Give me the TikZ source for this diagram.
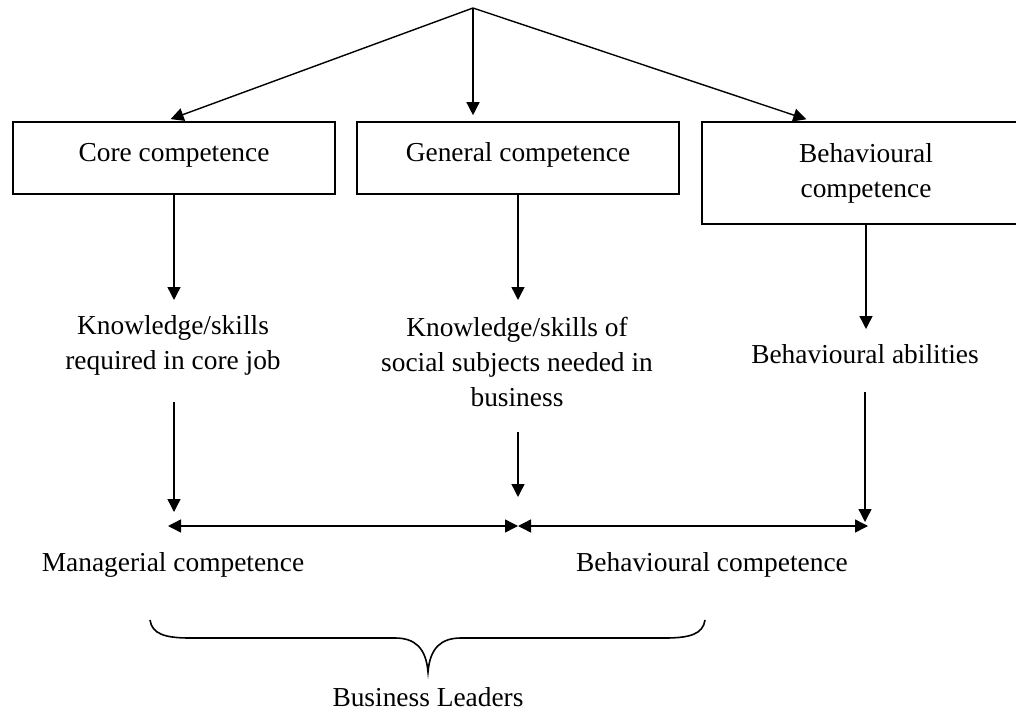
\documentclass[tikz,border=0pt]{standalone}
\usepackage{fontspec}
\setmainfont{Liberation Serif}
\usetikzlibrary{arrows.meta}
\begin{document}
\begin{tikzpicture}[x=0.5pt,y=-0.5pt,
  lbl/.style={font=\fontsize{13.7}{17.5}\selectfont,align=center,inner sep=0pt},
  box/.style={lbl,draw,line width=0.8pt},
  onebox/.style={box,minimum height=36pt,text height=9.4pt,text depth=6pt},
  arr/.style={line width=0.7pt,-{Triangle[length=6.5pt,width=6.5pt]}},
  darr/.style={line width=0.7pt,{Triangle[length=6.5pt,width=6.5pt]}-{Triangle[length=6.5pt,width=6.5pt]}},
  brace/.style={line width=0.8pt}
]
\useasboundingbox (0,0) rectangle (1016,711);
\clip (0,0) rectangle (1016,711);
% boxes
\node[onebox,minimum width=161pt] (b1) at (174,158) {Core competence};
\node[onebox,minimum width=161pt] (b2) at (518,158) {General competence};
\node[box,minimum width=164pt,minimum height=51pt] (b3) at (866,173) {Behavioural\\competence};
% top arrows
\coordinate (apex) at (473,8);
\coordinate (t1) at (165,0);
\coordinate (t3) at (812,0);
\draw[arr,shorten >=3pt] (apex) -- (b1.north -| t1);
\draw[arr,shorten >=3pt] (apex) -- (b2.north -| apex);
\draw[arr,shorten >=3pt] (apex) -- (b3.north -| t3);
% second level texts
\node[lbl] (k1) at (173,345) {Knowledge/skills\\required in core job};
\node[lbl] (k2) at (517,362) {Knowledge/skills of\\social subjects needed in\\business};
\node[lbl] (k3) at (865,354) {Behavioural abilities};
\coordinate (r1) at (0,300);
\coordinate (r3) at (0,329);
\draw[arr] (b1.south) -- (b1.south |- r1);
\draw[arr] (b2.south) -- (b2.south |- r1);
\draw[arr] (b3.south) -- (b3.south |- r3);
% lower arrows
\coordinate (s1) at (174,402);
\coordinate (e1) at (174,512);
\coordinate (s2) at (518,432);
\coordinate (e2) at (518,497);
\coordinate (s3) at (865,392);
\coordinate (e3) at (865,522);
\draw[arr] (s1) -- (e1);
\draw[arr] (s2) -- (e2);
\draw[arr] (s3) -- (e3);
% horizontal
\coordinate (hl) at (168,526);
\coordinate (hm) at (518,526);
\coordinate (hr) at (868,526);
\draw[darr] (hl) -- (hm);
\draw[darr] (hm) -- (hr);
% bottom labels
\node[lbl] (m1) at (173,565) {Managerial competence};
\node[lbl] (m2) at (712,565) {Behavioural competence};
% brace
\draw[brace] (150,620) .. controls (152,634) and (165,638) .. (190,638) -- (395,638)
  .. controls (415,638) and (426,648) .. (428,672)
  .. controls (430,648) and (441,638) .. (461,638) -- (665,638)
  .. controls (690,638) and (703,634) .. (705,620);
\node[lbl] (bl) at (428,697) {Business Leaders};
\end{tikzpicture}
\end{document}
